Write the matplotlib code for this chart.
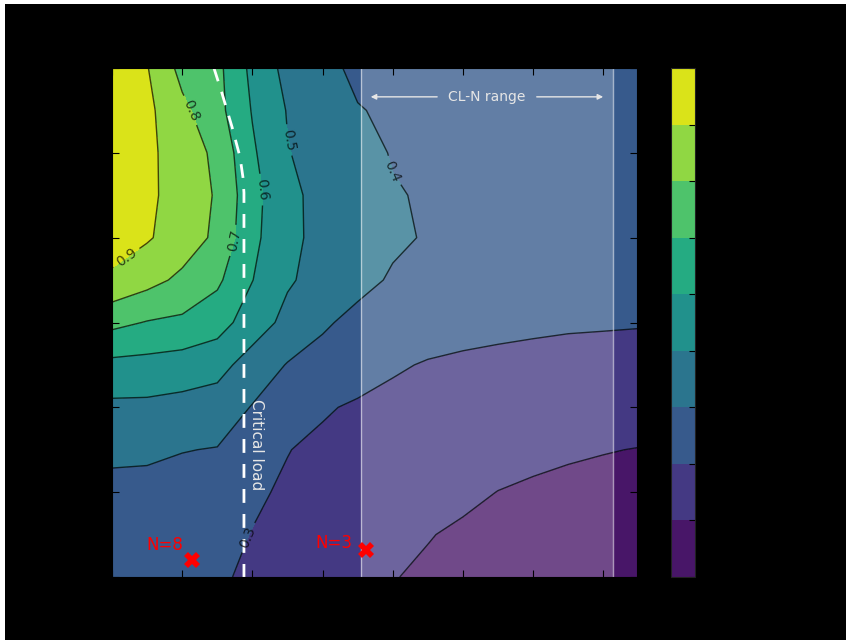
import numpy as np
import matplotlib
matplotlib.use("Agg")
import matplotlib.pyplot as plt
from matplotlib.patches import Rectangle

# grid of the response surface (rows: y from 0 to 60, cols: x from 0 to 37.5)
x_nodes = np.arange(0, 40, 2.5)
y_nodes = np.arange(0, 65, 5)
z_rows = [
    [0.360, 0.355, 0.340, 0.310, 0.287, 0.266, 0.245, 0.224, 0.2025, 0.190, 0.180, 0.172, 0.165, 0.160, 0.156, 0.152],
    [0.370, 0.365, 0.350, 0.320, 0.298, 0.279, 0.260, 0.242, 0.222, 0.203, 0.190, 0.180, 0.172, 0.166, 0.162, 0.158],
    [0.375, 0.373, 0.365, 0.360, 0.310, 0.291, 0.276, 0.260, 0.245, 0.229, 0.214, 0.199, 0.190, 0.183, 0.178, 0.174],
    [0.419, 0.416, 0.403, 0.396, 0.364, 0.302, 0.285, 0.273, 0.262, 0.249, 0.237, 0.226, 0.217, 0.209, 0.203, 0.198],
    [0.480, 0.479, 0.468, 0.455, 0.395, 0.348, 0.308, 0.290, 0.282, 0.272, 0.263, 0.255, 0.249, 0.243, 0.239, 0.235],
    [0.574, 0.568, 0.555, 0.533, 0.458, 0.395, 0.366, 0.337, 0.308, 0.295, 0.288, 0.283, 0.279, 0.275, 0.273, 0.270],
    [0.726, 0.695, 0.681, 0.642, 0.549, 0.473, 0.413, 0.374, 0.348, 0.333, 0.324, 0.318, 0.313, 0.309, 0.307, 0.305],
    [0.880, 0.832, 0.779, 0.718, 0.602, 0.511, 0.466, 0.427, 0.390, 0.375, 0.366, 0.360, 0.352, 0.345, 0.340, 0.336],
    [0.950, 0.910, 0.853, 0.780, 0.624, 0.526, 0.470, 0.447, 0.415, 0.393, 0.385, 0.378, 0.372, 0.367, 0.362, 0.358],
    [0.970, 0.920, 0.859, 0.790, 0.633, 0.524, 0.470, 0.444, 0.406, 0.392, 0.385, 0.378, 0.372, 0.368, 0.364, 0.360],
    [0.970, 0.920, 0.856, 0.777, 0.614, 0.504, 0.465, 0.429, 0.395, 0.385, 0.378, 0.372, 0.368, 0.364, 0.360, 0.358],
    [0.960, 0.923, 0.823, 0.7325, 0.594, 0.495, 0.452, 0.405, 0.385, 0.380, 0.375, 0.370, 0.365, 0.360, 0.360, 0.355],
    [0.950, 0.905, 0.770, 0.726, 0.575, 0.470, 0.430, 0.378, 0.370, 0.365, 0.360, 0.360, 0.355, 0.355, 0.350, 0.350],
]
levels = [0.1, 0.2, 0.3, 0.4, 0.5, 0.6, 0.7, 0.8, 0.9, 1.0]

# critical load curve
cl_x = [7.26, 7.83, 8.55, 9.12, 9.33, 9.40, 9.40]
cl_y = [60.0, 57.05, 53.05, 49.5, 47.1, 45.3, 0.0]

# CL-N range
cln_lo, cln_hi = 17.74, 35.68

# sites
site_x = [5.70, 18.09]
site_y = [2.0, 3.18]
site_labels = ["N=8", "N=3"]
site_text_x = [3.77, 15.81]
site_text_y = [3.77, 4.0]

# contour label positions (0.9 ... 0.3)
label_pos = [(1.64, 36.2), (5.2, 54.7), (8.62, 39.7), (10.4, 45.6),
             (12.54, 51.5), (19.66, 47.7), (9.26, 4.95)]

Z = np.array(z_rows)
X, Y = np.meshgrid(x_nodes, y_nodes)

fig = plt.figure(figsize=(8.46, 6.4), dpi=100, facecolor="white")
fig.patches.append(Rectangle((5 / 846, 0), 1, 1 - 4 / 640, transform=fig.transFigure,
                             facecolor="black", edgecolor="none", zorder=-10))

ax = fig.add_axes([112 / 846, 63 / 640, 525 / 846, 509 / 640])
cax = fig.add_axes([671 / 846, 63 / 640, 24 / 846, 509 / 640])

cf = ax.contourf(X, Y, Z, levels=levels, cmap="viridis")
cs = ax.contour(X, Y, Z, levels=levels[1:-1], colors="black", linewidths=1, alpha=0.7)
ax.clabel(cs, fmt="%.1f", fontsize=10, manual=label_pos, inline=True)

# shaded range with edges
ax.axvspan(cln_lo, cln_hi, facecolor="white", alpha=0.22, edgecolor="none")
ax.axvline(cln_lo, color="white", alpha=0.55, lw=1)
ax.axvline(cln_hi, color="white", alpha=0.55, lw=1)

ax.text(26.7, 56.6, "CL-N range", color="#e6e6e6", fontsize=10, ha="center", va="center")
arrow = dict(arrowstyle="-|>", color="#e6e6e6", lw=1, mutation_scale=8)
ax.annotate("", xy=(18.23, 56.6), xytext=(23.36, 56.6), arrowprops=arrow)
ax.annotate("", xy=(35.19, 56.6), xytext=(30.06, 56.6), arrowprops=arrow)

ax.plot(cl_x, cl_y, color="white", ls="--", lw=2, dashes=(5, 4))
ax.text(10.3, 15.6, "Critical load", color="#e6e6e6", fontsize=11, rotation=270,
        ha="center", va="center")

ax.plot(site_x, site_y, ls="none", marker="X", color="red", markersize=11, markeredgewidth=0)
for tx, ty, lab in zip(site_text_x, site_text_y, site_labels):
    ax.text(tx, ty, lab, color="red", fontsize=12, ha="center", va="center")

ax.set_xlim(0, 37.4)
ax.set_ylim(0, 60)
ax.set_xticks(np.arange(0, 37, 5))
ax.set_yticks(np.arange(0, 61, 10))
ax.tick_params(direction="in", top=True, right=True, length=5, colors="black")

cb = fig.colorbar(cf, cax=cax)
cb.set_ticks(levels)
cb.ax.tick_params(direction="in", length=4, colors="black")
cb.outline.set_edgecolor("#222222")

plt.savefig("out.png", dpi=100, facecolor=fig.get_facecolor())
plt.close()
